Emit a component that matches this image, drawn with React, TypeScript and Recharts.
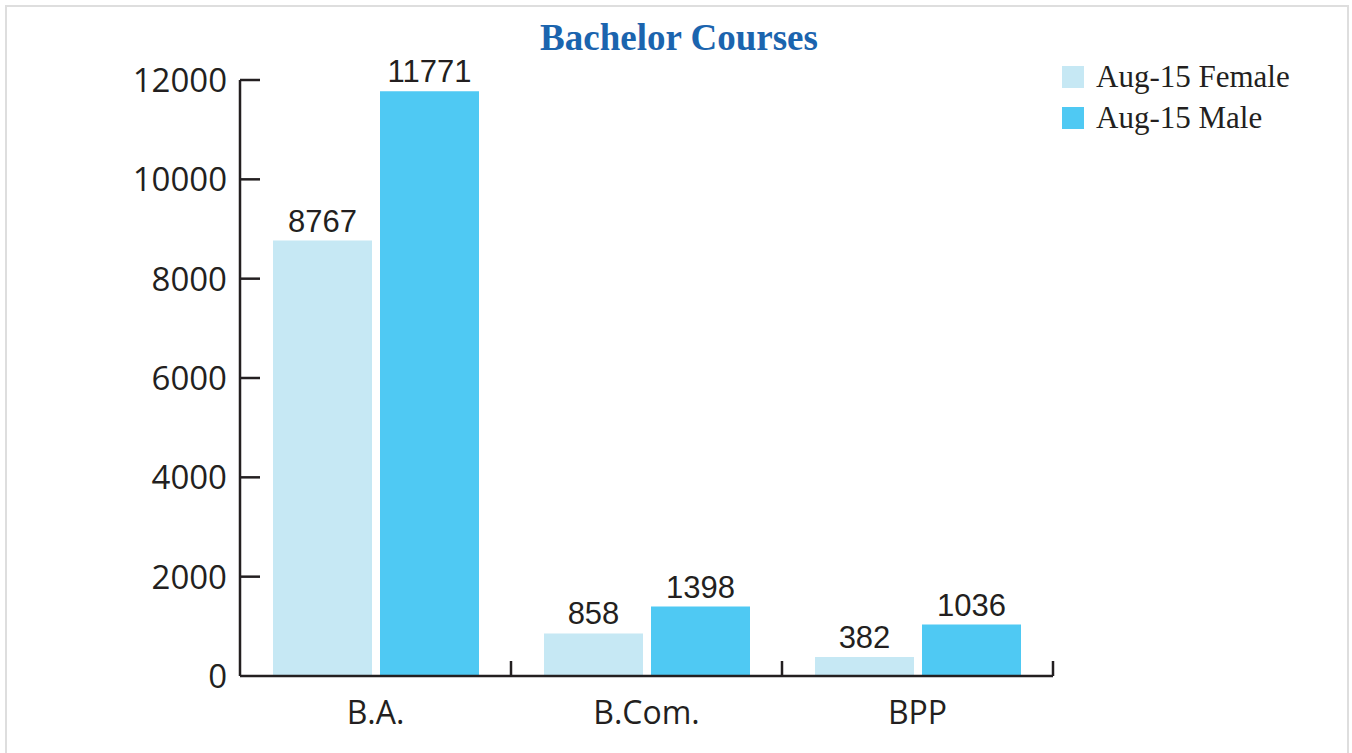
import React from 'react';
import { BarChart, Bar, XAxis, YAxis, Legend, LabelList } from 'recharts';

const categories = ['B.A.', 'B.Com.', 'BPP'];
const femaleValues = [8767, 858, 382];
const maleValues = [11771, 1398, 1036];
const yTicks = [0, 2000, 4000, 6000, 8000, 10000, 12000];
const seriesNames = ['Aug-15 Female', 'Aug-15 Male'];
const seriesColors = ['#c6e8f4', '#4fc9f3'];
const title = 'Bachelor Courses';

const data = categories.map((c, i) => ({ category: c, female: femaleValues[i], male: maleValues[i] }));

const W = 1352;
const H = 753;
const AXIS = '#231f20';
const MARGIN = { top: 80, right: 299, bottom: 17, left: 0 };
const Y_AXIS_W = 240;
const X_AXIS_H = 60;
const PLOT_W = W - MARGIN.left - MARGIN.right - Y_AXIS_W;

const YTick = (props: any) => {
  const { x, y, payload } = props;
  return (
    <g>
      {payload.value !== 0 && (
        <line x1={x} x2={x + 20} y1={y} y2={y} stroke={AXIS} strokeWidth={2.5} />
      )}
      <text x={x - 13} y={y} dy="0.36em" textAnchor="end" fontFamily="'Open Sans'" fontSize={33} fill={AXIS}>
        {payload.value}
      </text>
    </g>
  );
};

const XTick = (props: any) => {
  const { x, y, payload } = props;
  const half = payload.offset ?? PLOT_W / categories.length / 2;
  return (
    <g>
      <line x1={x + half} x2={x + half} y1={y} y2={y - 15} stroke={AXIS} strokeWidth={2.5} />
      <text x={x} y={y + 48} textAnchor="middle" fontFamily="'Open Sans'" fontSize={32} fill={AXIS}>
        {payload.value}
      </text>
    </g>
  );
};

const LegendContent = () => (
  <div style={{ fontFamily: "'Liberation Serif', 'Times New Roman', serif", fontSize: 31, color: AXIS }}>
    {seriesNames.map((n, i) => (
      <div key={n} style={{ display: 'flex', alignItems: 'center', height: 41 }}>
        <span style={{ display: 'inline-block', width: 22, height: 22, background: seriesColors[i], marginRight: 12 }} />
        <span style={{ lineHeight: '41px' }}>{n}</span>
      </div>
    ))}
  </div>
);

export default function App() {
  return (
    <div style={{ position: 'absolute', left: 0, top: 0, width: W, height: H, background: '#fff', overflow: 'hidden' }}>
      <div
        style={{
          position: 'absolute', left: 5, top: 5, width: W - 12, height: H + 10,
          borderLeft: '2px solid #dedede', borderTop: '2px solid #dedede', borderRight: '2px solid #dedede',
        }}
      />
      <div
        style={{
          position: 'absolute', left: 0, width: 1358, top: 16, textAlign: 'center',
          fontFamily: "'Liberation Serif', 'Times New Roman', serif", fontWeight: 'bold', fontSize: 37,
          color: '#1b64ae', lineHeight: '44px',
        }}
      >
        {title}
      </div>
      <div style={{ position: 'absolute', left: 0, top: 0 }}>
        <BarChart width={W} height={H} data={data} margin={MARGIN} barGap={8} barSize={99}>
          <XAxis
            dataKey="category"
            height={X_AXIS_H}
            tickLine={false}
            tickSize={0}
            tickMargin={0}
            axisLine={{ stroke: AXIS, strokeWidth: 2.5 }}
            tick={<XTick />}
            interval={0}
          />
          <YAxis
            width={Y_AXIS_W}
            domain={[0, 12000]}
            ticks={yTicks}
            tickLine={false}
            tickSize={0}
            tickMargin={0}
            axisLine={{ stroke: AXIS, strokeWidth: 2.5 }}
            tick={<YTick />}
            interval={0}
          />
          <Legend
            layout="vertical"
            align="center"
            verticalAlign="middle"
            content={<LegendContent />}
            wrapperStyle={{ position: 'absolute', left: 1062, top: 56, width: 285 }}
          />
          <Bar dataKey="female" name={seriesNames[0]} fill={seriesColors[0]} isAnimationActive={false}>
            <LabelList dataKey="female" position="top" offset={9} fill={AXIS} fontFamily="'Liberation Sans', Arial" fontSize={31} />
          </Bar>
          <Bar dataKey="male" name={seriesNames[1]} fill={seriesColors[1]} isAnimationActive={false}>
            <LabelList dataKey="male" position="top" offset={9} fill={AXIS} fontFamily="'Liberation Sans', Arial" fontSize={31} />
          </Bar>
        </BarChart>
      </div>
    </div>
  );
}
